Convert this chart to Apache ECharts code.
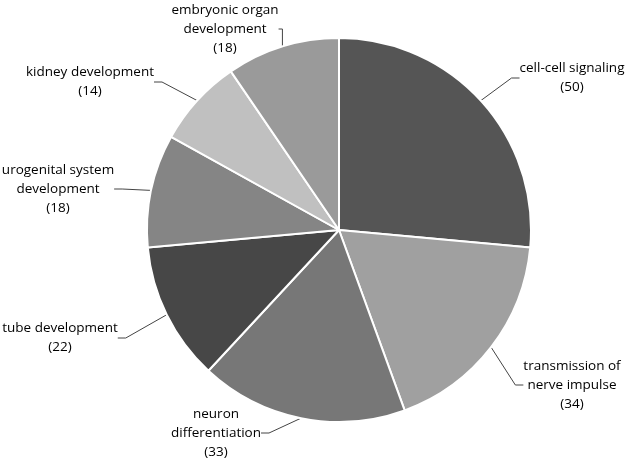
<!DOCTYPE html>
<html>
<head>
<meta charset="utf-8">
<script src="https://cdn.jsdelivr.net/npm/echarts@6/dist/echarts.min.js"></script>
<style>
  html, body { margin: 0; padding: 0; background: #fff; }
  #chart { width: 638px; height: 463px; }
</style>
</head>
<body>
<div id="chart"></div>
<script>
var categories = [
    'cell-cell signaling',
    'transmission of\nnerve impulse',
    'neuron\ndifferentiation',
    'tube development',
    'urogenital system\ndevelopment',
    'kidney development',
    'embryonic organ\ndevelopment'
];
var counts = [50, 34, 33, 22, 18, 14, 18];
var sliceColors = ['#555555', '#a0a0a0', '#777777', '#474747', '#858585', '#c0c0c0', '#9a9a9a'];

// where each label sits (text centre)
var labelSpots = [
    [572, 78], [572, 385], [216, 433], [60, 338], [58, 189], [90, 82], [225, 29]
];

var chart = echarts.init(document.getElementById('chart'));

var pieData = categories.map(function (name, i) {
    return { name: name, value: counts[i], itemStyle: { color: sliceColors[i] } };
});

chart.setOption({
    animation: false,
    series: [{
        type: 'pie',
        center: [339, 230],
        radius: 192,
        startAngle: 90,
        clockwise: true,
        data: pieData,
        itemStyle: { borderColor: '#fff', borderWidth: 2 },
        label: {
            show: true,
            position: 'outside',
            formatter: '{b}\n({c})',
            fontFamily: 'Open Sans',
            fontSize: 13.5,
            lineHeight: 19,
            color: '#000',
            align: 'center',
            overflow: 'none'
        },
        labelLine: {
            show: true,
            length: 20,
            length2: 8,
            lineStyle: { color: '#444', width: 1 }
        },
        labelLayout: function (params) {
            var p = labelSpots[params.dataIndex];
            return { x: p[0], y: p[1], align: 'center', verticalAlign: 'middle' };
        },
        emphasis: { disabled: true }
    }]
});
</script>
</body>
</html>
